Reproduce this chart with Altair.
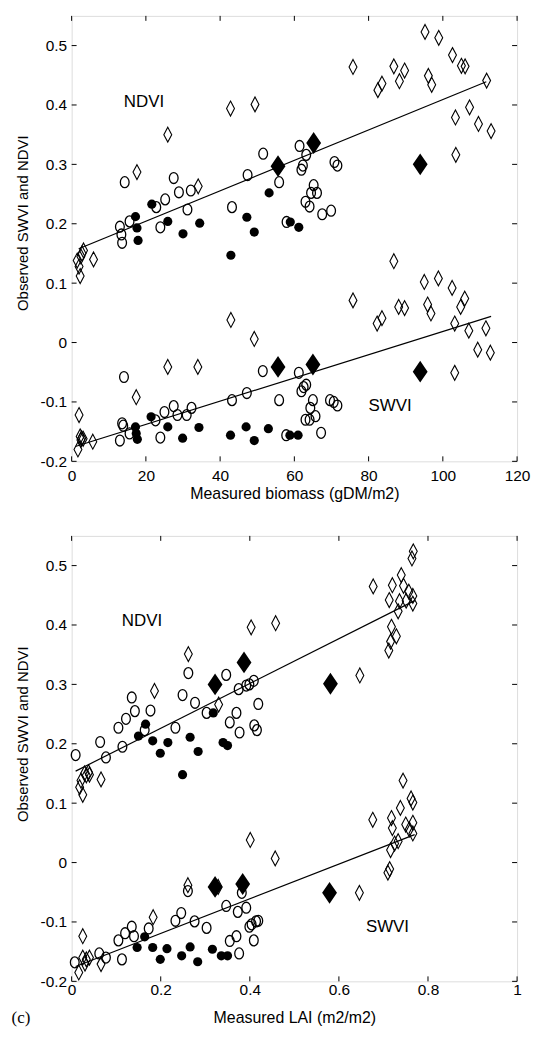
import altair as alt
import pandas as pd

# ---------------- data: panel 1 (biomass) ----------------
# [x, y] pairs
B_NDVI_OPEN_DIAMOND = [[1.5, 0.138], [2.0, 0.128], [2.3, 0.112], [2.8, 0.150], [3.2, 0.155], [2.5, 0.145],
                       [5.9, 0.140], [17.6, 0.287], [25.9, 0.350], [34.1, 0.263], [42.8, 0.394], [49.4, 0.401],
                       [75.8, 0.464], [82.5, 0.425], [83.6, 0.436], [86.8, 0.465], [88.3, 0.440], [89.7, 0.458],
                       [95.2, 0.523], [98.9, 0.513], [96.1, 0.449], [97.0, 0.434], [102.6, 0.484], [105.0, 0.466],
                       [106.0, 0.465], [111.8, 0.441], [103.4, 0.379], [107.2, 0.396], [109.6, 0.368],
                       [113.0, 0.356], [103.5, 0.316]]
B_NDVI_FILLED_DIAMOND = [[55.6, 0.297], [65.2, 0.336], [93.9, 0.300]]
B_NDVI_FILLED_CIRCLE = [[17.2, 0.212], [17.6, 0.193], [17.9, 0.172], [21.6, 0.233], [25.9, 0.204], [30.0, 0.183],
                        [34.5, 0.201], [42.9, 0.147], [47.2, 0.211], [49.2, 0.186], [53.2, 0.252], [58.9, 0.203],
                        [61.2, 0.194]]
B_NDVI_OPEN_CIRCLE = [[14.3, 0.270], [13.0, 0.195], [13.4, 0.182], [13.6, 0.168], [15.6, 0.204], [22.8, 0.228],
                      [23.9, 0.194], [25.2, 0.241], [27.5, 0.277], [28.9, 0.253], [32.1, 0.256], [31.2, 0.224],
                      [43.2, 0.228], [47.4, 0.282], [51.6, 0.318], [55.9, 0.270], [57.9, 0.203], [61.4, 0.331],
                      [63.2, 0.316], [62.3, 0.298], [61.9, 0.291], [70.8, 0.304], [71.6, 0.298], [65.2, 0.265],
                      [64.5, 0.252], [66.1, 0.252], [63.0, 0.237], [64.1, 0.229], [67.5, 0.216], [69.9, 0.222]]

B_SWVI_OPEN_DIAMOND = [[2.0, -0.122], [2.3, -0.158], [2.7, -0.161], [1.7, -0.180], [2.5, -0.164], [3.1, -0.162],
                       [5.7, -0.167], [17.4, -0.092], [25.9, -0.041], [34.0, -0.041], [42.9, 0.038], [49.2, 0.006],
                       [75.8, 0.071], [86.8, 0.137], [82.3, 0.032], [83.6, 0.041], [88.1, 0.060], [89.7, 0.058],
                       [95.0, 0.102], [98.8, 0.108], [95.9, 0.064], [96.8, 0.049], [102.5, 0.092], [105.9, 0.074],
                       [104.8, 0.060], [103.2, 0.032], [107.0, 0.020], [111.6, 0.024], [109.4, -0.012],
                       [112.8, -0.017], [103.2, -0.051]]
B_SWVI_FILLED_DIAMOND = [[55.6, -0.041], [65.0, -0.037], [93.9, -0.049]]
B_SWVI_FILLED_CIRCLE = [[17.2, -0.142], [17.4, -0.153], [17.7, -0.163], [21.4, -0.125], [25.9, -0.142],
                        [29.9, -0.161], [34.3, -0.143], [42.8, -0.156], [47.0, -0.142], [49.2, -0.165],
                        [53.0, -0.145], [58.8, -0.156], [61.0, -0.156]]
B_SWVI_OPEN_CIRCLE = [[14.1, -0.058], [13.0, -0.165], [13.6, -0.136], [13.9, -0.140], [15.6, -0.153],
                      [22.6, -0.131], [23.9, -0.160], [25.0, -0.117], [27.5, -0.107], [28.5, -0.122],
                      [31.0, -0.122], [32.3, -0.110], [43.2, -0.097], [47.2, -0.085], [51.5, -0.048],
                      [55.9, -0.097], [57.8, -0.156], [61.2, -0.051], [61.9, -0.082], [62.5, -0.075],
                      [63.2, -0.071], [65.0, -0.097], [64.3, -0.110], [65.7, -0.124], [63.0, -0.130],
                      [64.1, -0.130], [67.2, -0.152], [69.6, -0.097], [70.6, -0.100], [71.6, -0.106]]

B_FIT_NDVI_X = [1.9, 111.7]
B_FIT_NDVI_Y = [0.158, 0.439]
B_FIT_SWVI_X = [1.0, 113.0]
B_FIT_SWVI_Y = [-0.175, 0.044]

B_LABEL_TEXT = ["NDVI", "SWVI"]
B_LABEL_X = [19.5, 85.8]
B_LABEL_Y = [0.405, -0.107]

B_X_TICKS = [0, 20, 40, 60, 80, 100, 120]

# ---------------- data: panel 2 (LAI) ----------------
L_NDVI_OPEN_DIAMOND = [[0.038, 0.152], [0.033, 0.147], [0.021, 0.138], [0.018, 0.127], [0.025, 0.114],
                       [0.040, 0.148], [0.029, 0.150], [0.066, 0.140], [0.186, 0.289], [0.262, 0.351],
                       [0.330, 0.266], [0.403, 0.396], [0.458, 0.403], [0.677, 0.465], [0.767, 0.524],
                       [0.764, 0.512], [0.740, 0.484], [0.720, 0.467], [0.745, 0.466], [0.757, 0.456],
                       [0.713, 0.442], [0.736, 0.440], [0.751, 0.441], [0.766, 0.449], [0.766, 0.436],
                       [0.733, 0.423], [0.718, 0.397], [0.729, 0.381], [0.716, 0.372], [0.712, 0.357],
                       [0.647, 0.315]]
L_NDVI_FILLED_DIAMOND = [[0.322, 0.300], [0.387, 0.337], [0.581, 0.301]]
L_NDVI_FILLED_CIRCLE = [[0.150, 0.213], [0.166, 0.233], [0.182, 0.205], [0.199, 0.184], [0.216, 0.202],
                        [0.249, 0.148], [0.266, 0.211], [0.284, 0.187], [0.318, 0.252], [0.340, 0.202],
                        [0.350, 0.197]]
L_NDVI_OPEN_CIRCLE = [[0.009, 0.181], [0.064, 0.203], [0.077, 0.177], [0.105, 0.227], [0.114, 0.195],
                      [0.122, 0.242], [0.135, 0.278], [0.142, 0.255], [0.164, 0.223], [0.177, 0.256],
                      [0.233, 0.227], [0.249, 0.282], [0.262, 0.319], [0.277, 0.269], [0.303, 0.252],
                      [0.347, 0.316], [0.355, 0.236], [0.370, 0.252], [0.377, 0.219], [0.375, 0.292],
                      [0.392, 0.298], [0.399, 0.300], [0.409, 0.306], [0.410, 0.231], [0.416, 0.223],
                      [0.419, 0.267]]

L_SWVI_OPEN_DIAMOND = [[0.025, -0.124], [0.025, -0.160], [0.033, -0.163], [0.040, -0.160], [0.030, -0.170],
                       [0.016, -0.185], [0.066, -0.171], [0.183, -0.092], [0.261, -0.038], [0.329, -0.041],
                       [0.401, 0.038], [0.457, 0.007], [0.676, 0.072], [0.744, 0.138], [0.762, 0.108],
                       [0.766, 0.101], [0.738, 0.092], [0.718, 0.075], [0.720, 0.058], [0.750, 0.064],
                       [0.766, 0.067], [0.758, 0.056], [0.766, 0.049], [0.733, 0.036], [0.725, 0.032],
                       [0.716, 0.021], [0.714, -0.011], [0.710, -0.017], [0.646, -0.051]]
L_SWVI_FILLED_DIAMOND = [[0.322, -0.041], [0.384, -0.036], [0.579, -0.051]]
L_SWVI_FILLED_CIRCLE = [[0.164, -0.125], [0.147, -0.143], [0.182, -0.143], [0.199, -0.163], [0.214, -0.145],
                        [0.247, -0.157], [0.266, -0.142], [0.283, -0.167], [0.316, -0.146], [0.336, -0.157],
                        [0.350, -0.157]]
L_SWVI_OPEN_CIRCLE = [[0.007, -0.168], [0.062, -0.153], [0.077, -0.160], [0.113, -0.163], [0.105, -0.131],
                      [0.120, -0.119], [0.135, -0.108], [0.140, -0.124], [0.173, -0.111], [0.233, -0.098],
                      [0.246, -0.085], [0.261, -0.048], [0.276, -0.099], [0.303, -0.110], [0.347, -0.073],
                      [0.355, -0.132], [0.370, -0.124], [0.376, -0.153], [0.373, -0.083], [0.382, -0.051],
                      [0.392, -0.076], [0.399, -0.108], [0.404, -0.104], [0.414, -0.099], [0.419, -0.098],
                      [0.409, -0.131]]

L_FIT_NDVI_X = [0.009, 0.77]
L_FIT_NDVI_Y = [0.154, 0.441]
L_FIT_SWVI_X = [0.009, 0.77]
L_FIT_SWVI_Y = [-0.175, 0.047]

L_LABEL_TEXT = ["NDVI", "SWVI"]
L_LABEL_X = [0.158, 0.709]
L_LABEL_Y = [0.407, -0.108]

L_X_TICKS = [0, 0.2, 0.4, 0.6, 0.8, 1]

Y_TICKS = [-0.2, -0.1, 0, 0.1, 0.2, 0.3, 0.4, 0.5]
Y_DOMAIN = [-0.2, 0.55]

# ---------------- styling ----------------
W, H = 448, 448
FONT = "Liberation Sans"
OPEN_O = "M0,-1A0.8,1,0,1,1,0,1A0.8,1,0,1,1,0,-1Z"
OPEN_DIAMOND = "M0,-1L0.53,0L0,1L-0.53,0Z"
FILLED_DIAMOND = "M0,-1L0.68,0L0,1L-0.68,0Z"


def pts(groups):
    rows = []
    for kind, lst in groups:
        for x, y in lst:
            rows.append({"x": x, "y": y, "kind": kind})
    return pd.DataFrame(rows)


def panel(groups, fits, labels, x_ticks, x_domain, x_title, label_pad, title_pad, title_y, extra=None):
    df = pts(groups)
    xs = alt.Scale(domain=x_domain, nice=False, zero=False)
    ys = alt.Scale(domain=Y_DOMAIN, nice=False, zero=False)
    xa = alt.Axis(values=x_ticks, labelExpr="'' + datum.value", ticks=False, domain=False, grid=False,
                  labelPadding=label_pad, titlePadding=title_pad, labelFontSize=15.5,
                  titleFontSize=16, titleFontWeight="normal", labelFont=FONT, titleFont=FONT,
                  labelColor="black", titleColor="black", labelFlush=False)
    ya = alt.Axis(values=Y_TICKS, labelExpr="'' + datum.value", ticks=False, domain=False, grid=False,
                  labelPadding=5, titlePadding=10, labelFontSize=15.5, titleY=title_y,
                  titleFontSize=15, titleFontWeight="normal", labelFont=FONT, titleFont=FONT,
                  labelColor="black", titleColor="black", labelFlush=False)
    base = alt.Chart(df)
    X = alt.X("x:Q", scale=xs, axis=xa, title=x_title)
    Y = alt.Y("y:Q", scale=ys, axis=ya, title="Observed SWVI and NDVI")

    od = base.transform_filter(alt.datum.kind == "od").mark_point(
        shape=OPEN_DIAMOND, size=225, filled=False, stroke="black", strokeWidth=1.1, opacity=1
    ).encode(x=X, y=Y)
    oc = base.transform_filter(alt.datum.kind == "oc").mark_point(
        shape=OPEN_O, size=121, filled=False, stroke="black", strokeWidth=1.3, opacity=1
    ).encode(x=X, y=Y)
    fc = base.transform_filter(alt.datum.kind == "fc").mark_circle(
        size=85, color="black", opacity=1
    ).encode(x=X, y=Y)
    fd = base.transform_filter(alt.datum.kind == "fd").mark_point(
        shape=FILLED_DIAMOND, size=340, filled=True, fill="black", stroke="black", opacity=1
    ).encode(x=X, y=Y)

    fit_rows = []
    for name, fx, fy in fits:
        for a, b in zip(fx, fy):
            fit_rows.append({"x": a, "y": b, "s": name})
    lines = alt.Chart(pd.DataFrame(fit_rows)).mark_line(color="black", strokeWidth=1.2).encode(
        x=X, y=Y, detail="s:N")

    lab = alt.Chart(pd.DataFrame({"x": labels[1], "y": labels[2], "t": labels[0]})).mark_text(
        font=FONT, fontSize=17, color="black", align="center", baseline="middle"
    ).encode(x=X, y=Y, text="t:N")

    xt = pd.DataFrame({"x": x_ticks})
    yt = pd.DataFrame({"y": Y_TICKS})
    tick_b = alt.Chart(xt).mark_rule(color="black").encode(x=X, y=alt.value(H), y2=alt.value(H - 5))
    tick_t = alt.Chart(xt).mark_rule(color="black").encode(x=X, y=alt.value(0), y2=alt.value(5))
    tick_l = alt.Chart(yt).mark_rule(color="black").encode(y=Y, x=alt.value(0), x2=alt.value(5))
    tick_r = alt.Chart(yt).mark_rule(color="black").encode(y=Y, x=alt.value(W), x2=alt.value(W - 5))

    layers = [od, oc, fc, fd, lines, lab, tick_b, tick_t, tick_l, tick_r]
    if extra is not None:
        layers.append(extra)
    return alt.layer(*layers).properties(width=W, height=H)


top = panel(
    [("od", B_NDVI_OPEN_DIAMOND), ("fd", B_NDVI_FILLED_DIAMOND), ("fc", B_NDVI_FILLED_CIRCLE),
     ("oc", B_NDVI_OPEN_CIRCLE), ("od", B_SWVI_OPEN_DIAMOND), ("fd", B_SWVI_FILLED_DIAMOND),
     ("fc", B_SWVI_FILLED_CIRCLE), ("oc", B_SWVI_OPEN_CIRCLE)],
    [("n", B_FIT_NDVI_X, B_FIT_NDVI_Y), ("s", B_FIT_SWVI_X, B_FIT_SWVI_Y)],
    (B_LABEL_TEXT, B_LABEL_X, B_LABEL_Y),
    B_X_TICKS, [0, 120], "Measured  biomass (gDM/m2)", 7, 2, 208,
)

clabel = alt.Chart(pd.DataFrame({"t": ["(c)"]})).mark_text(
    font="Liberation Serif", fontSize=17, color="black", align="center", baseline="middle"
).encode(text="t:N", x=alt.value(-51), y=alt.value(H + 37))

bottom = panel(
    [("od", L_NDVI_OPEN_DIAMOND), ("fd", L_NDVI_FILLED_DIAMOND), ("fc", L_NDVI_FILLED_CIRCLE),
     ("oc", L_NDVI_OPEN_CIRCLE), ("od", L_SWVI_OPEN_DIAMOND), ("fd", L_SWVI_FILLED_DIAMOND),
     ("fc", L_SWVI_FILLED_CIRCLE), ("oc", L_SWVI_OPEN_CIRCLE)],
    [("n", L_FIT_NDVI_X, L_FIT_NDVI_Y), ("s", L_FIT_SWVI_X, L_FIT_SWVI_Y)],
    (L_LABEL_TEXT, L_LABEL_X, L_LABEL_Y),
    L_X_TICKS, [0, 1], "Measured  LAI (m2/m2)", 1, 12, 199, extra=clabel,
)

chart = alt.vconcat(top, bottom, spacing=33).properties(
    padding={"left": 3, "top": 4, "right": 0, "bottom": 0}
).configure_view(
    stroke="black", strokeWidth=1
).configure(background="white")

chart.save("out.html", embed_options={"renderer": "svg", "actions": False})
